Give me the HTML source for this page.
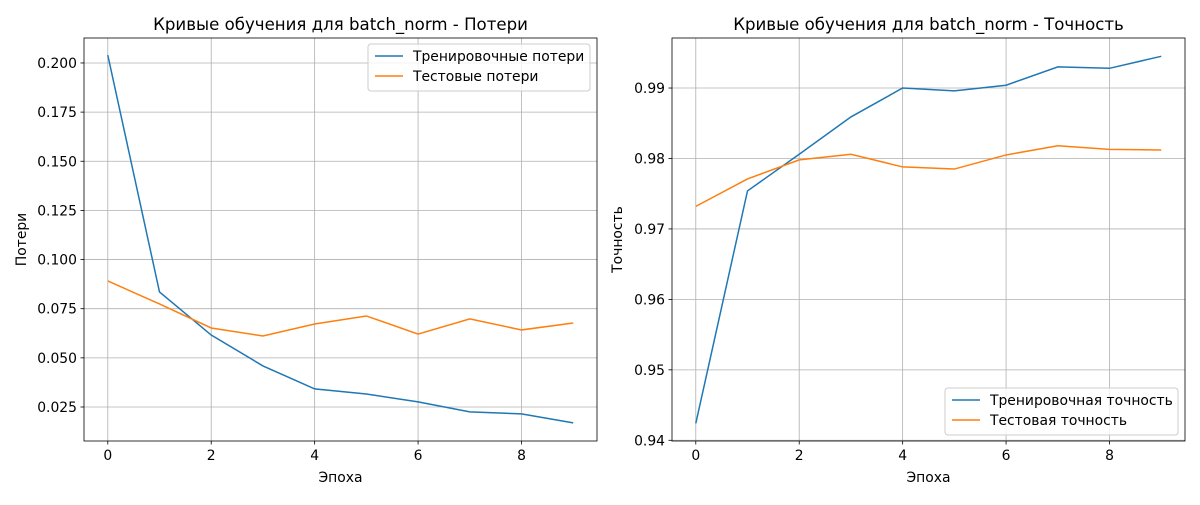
<!DOCTYPE html>
<html><head><meta charset="utf-8"><style>
body{margin:0;background:#fff;}
svg{font-family:"DejaVu Sans","Liberation Sans",sans-serif;}
</style></head><body>
<svg id="c" width="1200" height="500" xmlns="http://www.w3.org/2000/svg"></svg>
<script>
const epochs=[0,1,2,3,4,5,6,7,8,9];
const trainLoss=[0.204,0.0835,0.0616,0.0459,0.0342,0.0316,0.0276,0.0225,0.0215,0.0169];
const testLoss=[0.0891,0.0774,0.0652,0.0611,0.0672,0.0713,0.0621,0.0698,0.0642,0.0677];
const trainAcc=[0.9424,0.9754,0.9806,0.9859,0.9900,0.9896,0.9904,0.9930,0.9928,0.9945];
const testAcc=[0.9732,0.9771,0.9798,0.9806,0.9788,0.9785,0.9805,0.9818,0.9813,0.9812];
const xTicks=[0,2,4,6,8];
const lossTicks=[0.025,0.050,0.075,0.100,0.125,0.150,0.175,0.200];
const accTicks=[0.94,0.95,0.96,0.97,0.98,0.99];
const NS="http://www.w3.org/2000/svg";
const svg=document.getElementById('c');
const FS=13.9;
function el(t,a,p){const e=document.createElementNS(NS,t);for(const k in a)e.setAttribute(k,a[k]);(p||svg).appendChild(e);return e;}
function panel(o){
  const g=el('g',{});
  
  
  const X=v=>o.x0+(v-o.xmin)/(o.xmax-o.xmin)*(o.x1-o.x0);
  const Y=v=>o.y1-(v-o.ymin)/(o.ymax-o.ymin)*(o.y1-o.y0);
  xTicks.forEach(t=>{const x=X(t);
    const l=el('line',{x1:x,x2:x,y1:o.y0,y2:o.y1,stroke:'#b0b0b0','stroke-width':0.8},g);
    
    el('line',{x1:x,x2:x,y1:o.y1,y2:o.y1+3.5,stroke:'#000','stroke-width':0.8},g);
    const tx=el('text',{x:x,y:o.y1+19,'text-anchor':'middle','font-size':FS},g);tx.textContent=t;
    });
  o.yt.forEach(t=>{const y=Y(t);
    const l=el('line',{x1:o.x0,x2:o.x1,y1:y,y2:y,stroke:'#b0b0b0','stroke-width':0.8},g);
    
    el('line',{x1:o.x0-3.5,x2:o.x0,y1:y,y2:y,stroke:'#000','stroke-width':0.8},g);
    const tx=el('text',{x:o.x0-7,y:y+5,'text-anchor':'end','font-size':FS},g);tx.textContent=t.toFixed(o.dec);
    });
  o.series.forEach(s=>{
    const p=el('polyline',{points:epochs.map((e,i)=>X(e)+','+Y(s.v[i])).join(' '),fill:'none',stroke:s.c,'stroke-width':1.5},g);
    });
  el('rect',{x:o.x0,y:o.y0,width:o.x1-o.x0,height:o.y1-o.y0,fill:'none',stroke:'#000','stroke-width':0.8},g);
  const ti=el('text',{x:(o.x0+o.x1)/2,y:o.y0-8,'text-anchor':'middle','font-size':16.6},g);ti.textContent=o.title;
  
  const xl=el('text',{x:(o.x0+o.x1)/2,y:o.y1+41,'text-anchor':'middle','font-size':FS},g);xl.textContent='Эпоха';
  
  const cy=(o.y0+o.y1)/2;
  const yl=el('text',{x:o.ylx,y:cy,'text-anchor':'middle','font-size':FS,transform:`rotate(-90 ${o.ylx} ${cy})`},g);yl.textContent=o.ylabel;
  
  const L=o.leg;
  const lg=el('g',{},g);
  el('rect',{x:L.x,y:L.y,width:L.w,height:47,rx:3,fill:'#fff','fill-opacity':0.8,stroke:'#ccc'},lg);
  o.series.forEach((s,i)=>{const yy=L.y+12+i*20;
    el('line',{x1:L.x+7,x2:L.x+35,y1:yy,y2:yy,stroke:s.c,'stroke-width':1.5},lg);
    const t=el('text',{x:L.x+45,y:yy+5,'font-size':FS},lg);t.textContent=s.label;
    });
}
panel({name:'loss-chart',x0:84,x1:597,y0:38,y1:441,xmin:-0.46,xmax:9.46,ymin:0.0077,ymax:0.2127,yt:lossTicks,dec:3,
 title:'Кривые обучения для batch_norm - Потери',ylabel:'Потери',ylx:26,
 leg:{x:368,y:44,w:222},
 series:[{v:trainLoss,c:'#1f77b4',n:'train-loss-line',label:'Тренировочные потери'},{v:testLoss,c:'#ff7f0e',n:'test-loss-line',label:'Тестовые потери'}]});
panel({name:'accuracy-chart',x0:672,x1:1185,y0:38,y1:441,xmin:-0.46,xmax:9.46,ymin:0.9399,ymax:0.9971,yt:accTicks,dec:2,
 title:'Кривые обучения для batch_norm - Точность',ylabel:'Точность',ylx:622,
 leg:{x:945,y:388,w:233},
 series:[{v:trainAcc,c:'#1f77b4',n:'train-accuracy-line',label:'Тренировочная точность'},{v:testAcc,c:'#ff7f0e',n:'test-accuracy-line',label:'Тестовая точность'}]});
</script>
</body></html>
